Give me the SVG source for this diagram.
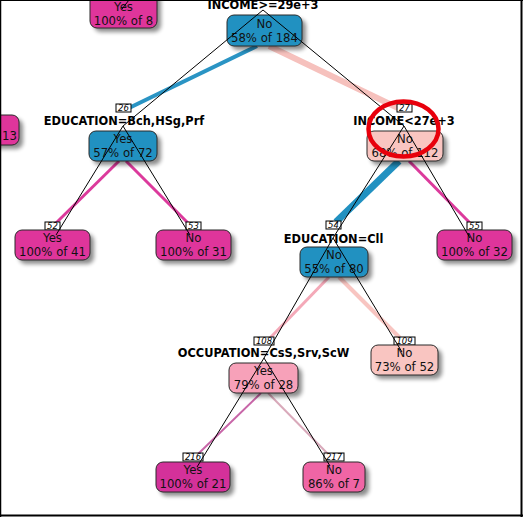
<svg xmlns="http://www.w3.org/2000/svg" width="523" height="517" viewBox="0 0 523 517">
<defs>
<style>
.box{stroke:#2a2a2a;stroke-width:1}
.sh{fill:#000;opacity:0.45;filter:url(#blur)}
.t{font-family:"DejaVu Sans",Verdana,sans-serif;font-size:11.7px;fill:#111;text-anchor:middle}
.lab{font-family:"DejaVu Sans",Verdana,sans-serif;font-size:11.4px;font-weight:bold;fill:#000;text-anchor:middle}
.nb{fill:#fff;stroke:#000;stroke-width:1}
.nt{font-family:"DejaVu Sans",Verdana,sans-serif;font-size:8.5px;font-style:italic;fill:#000;text-anchor:middle}
.blue{fill:#2191c1}
.mag{fill:#df359b}
.lpk{fill:#f9c5c1}
.pk{fill:#f7a1b9}
.dmag{fill:#d4319a}
.hpk{fill:#f065a5}
.v{stroke:#000;stroke-width:1;fill:none}
.c{fill:none;stroke-linecap:butt}
</style>
<filter id="blur" x="-20%" y="-20%" width="140%" height="140%"><feGaussianBlur stdDeviation="2"/></filter>
</defs>
<rect x="0" y="0" width="523" height="517" fill="#fff"/>
<g id="connectors-colored">
<line class="c" x1="257" y1="46" x2="129" y2="108" stroke="#2a94c4" stroke-width="4"/>
<line class="c" x1="269" y1="46" x2="398" y2="108" stroke="#f6c1bd" stroke-width="6"/>
<line class="c" x1="119" y1="161" x2="56" y2="223" stroke="#dc3a9c" stroke-width="3"/>
<line class="c" x1="126" y1="161" x2="188" y2="223" stroke="#dc3a9c" stroke-width="3"/>
<line class="c" x1="399" y1="161" x2="336" y2="222" stroke="#2191c1" stroke-width="7"/>
<line class="c" x1="409" y1="161" x2="470" y2="223" stroke="#dc3a9c" stroke-width="3"/>
<line class="c" x1="329" y1="277" x2="270" y2="338" stroke="#f4a9b8" stroke-width="3"/>
<line class="c" x1="339" y1="277" x2="400" y2="338" stroke="#f8c5c1" stroke-width="4"/>
<line class="c" x1="261" y1="393" x2="198" y2="454" stroke="#c866a8" stroke-width="2"/>
<line class="c" x1="268" y1="393" x2="328" y2="454" stroke="#d9a9ba" stroke-width="2"/>
</g>
<g id="node-top-left">
<rect class="sh" x="94" y="-6" width="67" height="38" rx="7"/>
<rect class="box mag" x="90" y="-10" width="67" height="38" rx="7"/>
<text class="t" x="123.5" y="11">Yes</text>
<text class="t" x="123.5" y="24.5">100% of 8</text>
</g>
<g id="node-left-edge">
<rect class="sh" x="-6" y="119" width="29" height="30" rx="7"/>
<rect class="box mag" x="-10" y="115" width="29" height="30" rx="7"/>
<text class="t" x="9.5" y="140">13</text>
</g>
<g id="node-1">
<text class="lab" x="263" y="9">INCOME&gt;=29e+3</text>
<rect class="sh" x="231" y="19" width="75" height="31" rx="7"/>
<rect class="box blue" x="227" y="15" width="75" height="31" rx="7"/>
<text class="t" x="264.5" y="27.5">No</text>
<text class="t" x="264.5" y="41.5">58% of 184</text>
</g>
<g id="node-26">
<rect class="nb" x="116" y="104" width="15" height="8"/>
<text class="nt" x="123.5" y="111">26</text>
<text class="lab" x="124" y="124.5">EDUCATION=Bch,HSg,Prf</text>
<rect class="sh" x="93" y="135" width="68" height="30" rx="7"/>
<rect class="box blue" x="89" y="131" width="68" height="30" rx="7"/>
<text class="t" x="123" y="142.5">Yes</text>
<text class="t" x="123" y="157">57% of 72</text>
</g>
<g id="node-27">
<rect class="nb" x="397" y="104" width="15" height="8"/>
<text class="nt" x="404.5" y="111">27</text>
<text class="lab" x="404" y="124.5">INCOME&lt;27e+3</text>
<rect class="sh" x="371" y="135" width="76" height="30" rx="7"/>
<rect class="box lpk" x="367" y="131" width="76" height="30" rx="7"/>
<text class="t" x="405" y="142.5">No</text>
<text class="t" x="405" y="157">68% of 112</text>
</g>
<g id="node-52">
<rect class="nb" x="45" y="222" width="15" height="8"/>
<text class="nt" x="52.5" y="229">52</text>
<rect class="sh" x="19" y="234" width="75" height="30" rx="7"/>
<rect class="box mag" x="15" y="230" width="75" height="30" rx="7"/>
<text class="t" x="52.5" y="242">Yes</text>
<text class="t" x="52.5" y="256">100% of 41</text>
</g>
<g id="node-53">
<rect class="nb" x="186" y="222" width="15" height="8"/>
<text class="nt" x="193.5" y="229">53</text>
<rect class="sh" x="160" y="234" width="75" height="30" rx="7"/>
<rect class="box mag" x="156" y="230" width="75" height="30" rx="7"/>
<text class="t" x="193.5" y="242">No</text>
<text class="t" x="193.5" y="256">100% of 31</text>
</g>
<g id="node-54">
<rect class="nb" x="326" y="221" width="15" height="8"/>
<text class="nt" x="333.5" y="228">54</text>
<text class="lab" x="333.5" y="242.5">EDUCATION=Cll</text>
<rect class="sh" x="304" y="251" width="68" height="30" rx="7"/>
<rect class="box blue" x="300" y="247" width="68" height="30" rx="7"/>
<text class="t" x="334" y="259">No</text>
<text class="t" x="334" y="273">55% of 80</text>
</g>
<g id="node-55">
<rect class="nb" x="467" y="222" width="15" height="8"/>
<text class="nt" x="474.5" y="229">55</text>
<rect class="sh" x="441" y="234" width="75" height="30" rx="7"/>
<rect class="box mag" x="437" y="230" width="75" height="30" rx="7"/>
<text class="t" x="474.5" y="242">No</text>
<text class="t" x="474.5" y="256">100% of 32</text>
</g>
<g id="node-108">
<rect class="nb" x="254" y="337" width="20" height="8"/>
<text class="nt" x="264" y="344">108</text>
<text class="lab" x="263.5" y="356.5">OCCUPATION=CsS,Srv,ScW</text>
<rect class="sh" x="233" y="367" width="69" height="30" rx="7"/>
<rect class="box pk" x="229" y="363" width="69" height="30" rx="7"/>
<text class="t" x="263.5" y="375">Yes</text>
<text class="t" x="263.5" y="388.5">79% of 28</text>
</g>
<g id="node-109">
<rect class="nb" x="394" y="337" width="21" height="8"/>
<text class="nt" x="404.5" y="344">109</text>
<rect class="sh" x="375" y="349" width="67" height="30" rx="7"/>
<rect class="box lpk" x="371" y="345" width="67" height="30" rx="7"/>
<text class="t" x="404.5" y="357">No</text>
<text class="t" x="404.5" y="371">73% of 52</text>
</g>
<g id="node-216">
<rect class="nb" x="183" y="453" width="20" height="8"/>
<text class="nt" x="193" y="460">216</text>
<rect class="sh" x="160" y="466" width="74" height="30" rx="7"/>
<rect class="box dmag" x="156" y="462" width="74" height="30" rx="7"/>
<text class="t" x="193" y="474">Yes</text>
<text class="t" x="193" y="488">100% of 21</text>
</g>
<g id="node-217">
<rect class="nb" x="324" y="453" width="20" height="8"/>
<text class="nt" x="334" y="460">217</text>
<rect class="sh" x="307" y="466" width="62" height="30" rx="7"/>
<rect class="box hpk" x="303" y="462" width="62" height="30" rx="7"/>
<text class="t" x="334" y="474">No</text>
<text class="t" x="334" y="488">86% of 7</text>
</g>
<g id="connectors">
<line class="v" x1="122" y1="9" x2="129" y2="0"/>
<line class="v" x1="263" y1="10" x2="123" y2="126"/>
<line class="v" x1="263" y1="10" x2="404" y2="126"/>
<line class="v" x1="123" y1="126" x2="56" y2="235"/>
<line class="v" x1="123" y1="126" x2="190" y2="235"/>
<line class="v" x1="404" y1="126" x2="333" y2="238"/>
<line class="v" x1="404" y1="126" x2="470" y2="238"/>
<line class="v" x1="333" y1="238" x2="264" y2="358"/>
<line class="v" x1="333" y1="238" x2="402" y2="352"/>
<line class="v" x1="264" y1="358" x2="197" y2="467"/>
<line class="v" x1="264" y1="358" x2="330" y2="466"/>
</g>
<ellipse cx="403.5" cy="129" rx="35" ry="27.5" fill="none" stroke="#e8000c" stroke-width="4.5"/>
<line x1="0.5" y1="0" x2="0.5" y2="517" stroke="#000" stroke-width="1.5"/>
<line x1="0" y1="0.5" x2="523" y2="0.5" stroke="#000" stroke-width="1"/>
<line x1="521.5" y1="0" x2="521.5" y2="517" stroke="#000" stroke-width="2"/>
<line x1="0" y1="515.5" x2="523" y2="515.5" stroke="#000" stroke-width="2"/>
</svg>
